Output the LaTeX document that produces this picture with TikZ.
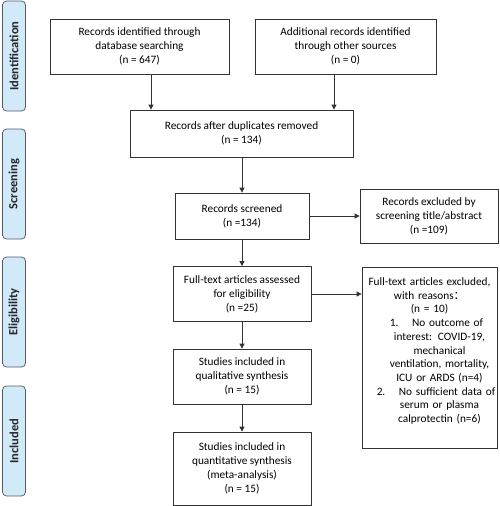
\documentclass[tikz,border=0pt]{standalone}
\usepackage{fontspec}
\setmainfont{Carlito}
\newfontfamily\cjkfont{Noto Sans CJK SC}
\usetikzlibrary{arrows.meta,calc}
\definecolor{sidefill}{RGB}{208,234,250}
\definecolor{sideline}{RGB}{90,90,90}
\tikzset{
  box/.style={draw=black!80, line width=0.75pt, align=center, inner sep=2pt, font=\fontsize{11.3}{14}\selectfont},
  txt/.style={align=center, text width=132pt, inner sep=0pt, font=\fontsize{11.3}{13.7}\selectfont},
  side/.style={draw=sideline, fill=sidefill, rounded corners=4pt, line width=0.75pt, minimum width=23pt, minimum height=110pt, inner sep=0pt},
  sidetext/.style={rotate=90, font=\fontsize{12.5}{14}\selectfont\bfseries, text=black!85},
  arr/.style={draw=black!80, line width=0.75pt, -{Triangle[length=5pt,width=5pt]}}
}
\begin{document}
\begin{tikzpicture}[x=1pt,y=-1pt]
\useasboundingbox (0,0) rectangle (500,506);
% side labels
\node[side] (sid) at (14,56) {};
\node[sidetext] (sidt) at (sid.center) {Identification};
\node[side] (ssc) at (14,184) {};
\node[sidetext] (ssct) at (ssc.center) {Screening};
\node[side] (sel) at (14,312) {};
\node[sidetext] (selt) at (sel.center) {Eligibility};
\node[side] (sin) at (14,441) {};
\node[sidetext] (sint) at (sin.center) {Included};
% boxes
\node[box, minimum width=179pt, minimum height=55pt] (b1) at (139.5,46.5) {Records identified through\\database searching\\(n = 647)};
\node[box, minimum width=181pt, minimum height=55pt] (b2) at (345.5,46.5) {Additional records identified\\through other sources\\(n = 0)};
\node[box, minimum width=223pt, minimum height=47pt] (b3) at (241.5,133.5) {Records after duplicates removed\\(n = 134)};
\node[box, minimum width=134pt, minimum height=46pt] (b4) at (242,216) {Records screened\\(n =134)};
\node[box, minimum width=138pt, minimum height=54pt] (b5) at (429,216) {Records excluded by\\screening title/abstract\\(n =109)};
\node[box, minimum width=138pt, minimum height=55pt] (b6) at (242,294) {Full-text articles assessed\\for eligibility\\(n =25)};
\node[box, minimum width=135pt, minimum height=181pt, anchor=north] (b7) at (429.5,266.5) {};
\node[txt, anchor=north] (b7t) at ([yshift=-11pt]b7.north) {Full-text articles excluded,\\with reasons{\cjkfont ：}\\(n = 10)\\\hspace*{14pt}1.\hspace{1.2em}No outcome of\\\hspace*{20pt}interest: COVID-19,\\\hspace*{20pt}mechanical\\\hspace*{20pt}ventilation, mortality,\\\hspace*{20pt}ICU or ARDS (n=4)\\\hspace*{13pt}2.\hspace{1.2em}No sufficient data of\\\hspace*{20pt}serum or plasma\\\hspace*{20pt}calprotectin (n=6)};
\node[box, minimum width=138pt, minimum height=55pt] (b8) at (242,376.5) {Studies included in\\qualitative synthesis\\(n = 15)};
\node[box, minimum width=138pt, minimum height=73pt] (b9) at (242,468.5) {Studies included in\\quantitative synthesis\\(meta-analysis)\\(n = 15)};
% connectors
\draw[arr] ([xshift=11.5pt]b1.south) -- ([xshift=11.5pt]b1.south |- b3.north);
\draw[arr] ([xshift=-11.5pt]b2.south) -- ([xshift=-11.5pt]b2.south |- b3.north);
\draw[arr] (b3.south -| b4.north) -- (b4.north);
\draw[arr] (b4.east) -- (b4.east -| b5.west);
\draw[arr] (b4.south) -- (b6.north);
\draw[arr] (b6.east) -- (b6.east -| b7.west);
\draw[arr] (b6.south) -- (b8.north);
\draw[arr] (b8.south) -- (b9.north);
\end{tikzpicture}
\end{document}
